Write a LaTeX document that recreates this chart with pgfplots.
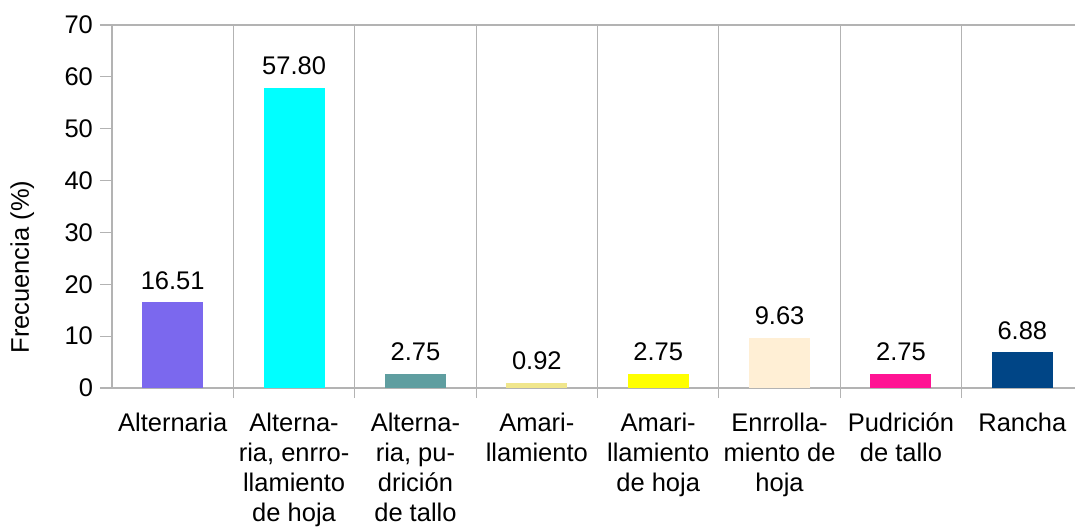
\documentclass[border=0pt]{standalone}
\usepackage{pgfplots}
\pgfplotsset{compat=1.18}
\usepackage{fontspec}
\setmainfont{Liberation Sans}
\definecolor{gridgray}{HTML}{B3B3B3}
\definecolor{c1}{HTML}{7B68EE}
\definecolor{c2}{HTML}{00FFFF}
\definecolor{c3}{HTML}{5F9EA0}
\definecolor{c4}{HTML}{F0E68C}
\definecolor{c5}{HTML}{FFFF00}
\definecolor{c6}{HTML}{FFEFD5}
\definecolor{c7}{HTML}{FF1493}
\definecolor{c8}{HTML}{004586}
\begin{document}
\begin{tikzpicture}
\useasboundingbox (-56pt,-69pt) rectangle (481.5pt,194pt);
\begin{axis}[
  at={(0,0)}, anchor=south west,
  scale only axis,
  width=485.5pt, height=181.5pt,
  xmin=-0.5, xmax=7.5, ymin=0, ymax=70,
  enlargelimits=false,
  ybar, bar width=30.5pt,
  axis lines=left,
  axis line style={-, draw=gridgray, line width=0.6pt},
  tick align=outside,
  major tick length=6pt,
  minor tick length=5pt,
  tick style={draw=gridgray, line width=0.6pt},
  ytick={0,10,...,70},
  extra y ticks={70},
  extra y tick labels={},
  extra y tick style={grid=major, major grid style={draw=gridgray, line width=0.6pt}},
  xtick={0,...,7},
  major x tick style={draw=none},
  minor xtick={0.5,1.5,...,6.5},
  xminorgrids,
  minor grid style={draw=gridgray, line width=0.6pt},
  xticklabels={Alternaria,
    {Alterna-\\ria, enrro-\\llamiento\\de hoja},
    {Alterna-\\ria, pu-\\drición\\de tallo},
    {Amari-\\llamiento},
    {Amari-\\llamiento\\de hoja},
    {Enrrolla-\\miento de\\hoja},
    {Pudrición\\de tallo},
    Rancha},
  x tick label style={align=center, anchor=north, yshift=-3pt},
  ticklabel style={font=\fontsize{12.75}{15}\selectfont},
  /pgf/number format/assume math mode=true,
  ylabel={Frecuencia (\%)},
  ylabel style={at={(axis description cs:-0.0924,0.333)}, anchor=center, font=\fontsize{12.75}{15}\selectfont},
  nodes near coords,
  nodes near coords style={font=\fontsize{12.75}{15}\selectfont, /pgf/number format/.cd, fixed, fixed zerofill, precision=2, /tikz/yshift=3pt},
  every axis plot/.append style={bar shift=0pt, draw=none},
]
\addplot[fill=c1] coordinates {(0,16.51)};
\addplot[fill=c2] coordinates {(1,57.80)};
\addplot[fill=c3] coordinates {(2,2.75)};
\addplot[fill=c4] coordinates {(3,0.92)};
\addplot[fill=c5] coordinates {(4,2.75)};
\addplot[fill=c6] coordinates {(5,9.63)};
\addplot[fill=c7] coordinates {(6,2.75)};
\addplot[fill=c8] coordinates {(7,6.88)};
\end{axis}
\end{tikzpicture}
\end{document}
